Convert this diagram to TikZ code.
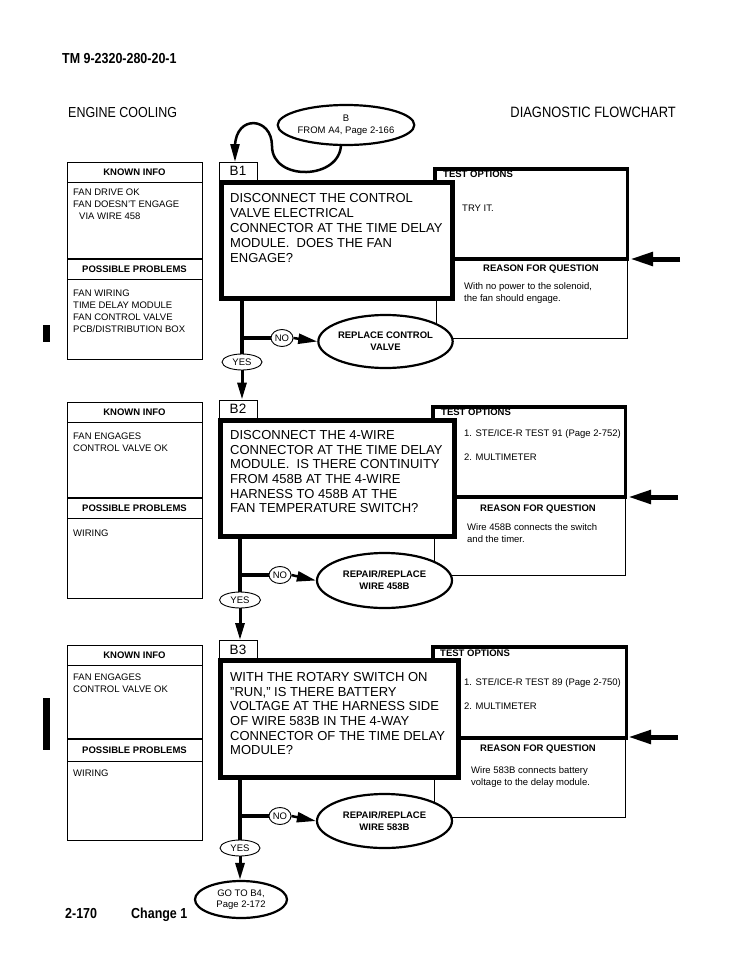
\documentclass[tikz,border=0pt]{standalone}
\usepackage{fontspec}
\setmainfont{Liberation Sans}
\newfontfamily\narrowfont[FakeStretch=0.86]{Liberation Sans}
\usetikzlibrary{arrows.meta,shapes.geometric}
\newcommand\fs[2]{\fontsize{#1}{#2}\selectfont}
\newcommand\rectnode[6]{\node[#1, minimum width={(#5)-(#3)}, minimum height={(#6)-(#4)}] (#2) at ({((#3)+(#5))/2},{((#4)+(#6))/2}) {};}
\begin{document}
\begin{tikzpicture}[x=1pt,y=-1pt,
  boxn/.style={rectangle, inner sep=0pt, draw, line width=1pt},
  qbox/.style={boxn, line width=5pt, fill=white},
  tobox/.style={boxn, line width=3.5pt},
  labbox/.style={boxn, fill=white, font=\fs{13.5}{16}, minimum width=38, minimum height=18},
  oval/.style={ellipse, draw, line width=2.2pt, fill=white, inner sep=0pt, align=center, font=\bfseries\fs{9.5}{12}},
  linkoval/.style={ellipse, draw, line width=2.2pt, fill=white, inner sep=0pt, align=center, font=\fs{9.5}{11.5}},
  smallov/.style={ellipse, draw, line width=0.9pt, fill=white, inner sep=0pt, font=\fs{9.5}{11}},
  trunk/.style={line width=4pt},
  flowarrow/.style={line width=3pt, -{Triangle[length=17pt,width=9pt]}},
  noarrow/.style={line width=2.5pt, -{Triangle[length=19pt,width=10pt]}},
  bigarrow/.style={line width=5pt, -{Triangle[length=23pt,width=13pt]}},
  looparrow/.style={line width=2.5pt, -{Triangle[length=18pt,width=9pt]}},
  txt/.style={inner sep=0pt, font=\fs{9.5}{12}, align=left},
  hdr/.style={inner sep=0pt, font=\bfseries\fs{9.5}{12}},
  qtext/.style={inner sep=0pt, align=left},
  divline/.style={line width=1pt},
  thickdiv/.style={line width=2pt}
]
\useasboundingbox (0,0) rectangle (750,972);

% ---------- header ----------
\node[anchor=base west, inner sep=0pt, font=\narrowfont\bfseries\fs{14.5}{17}] (tm) at (62,63.7) {TM 9-2320-280-20-1};
\node[anchor=base west, inner sep=0pt, font=\narrowfont\fs{14.5}{17}] (ec) at (68,117.2) {ENGINE COOLING};
\node[anchor=base east, inner sep=0pt, font=\narrowfont\fs{15}{17}] (df) at (676,117.4) {DIAGNOSTIC FLOWCHART};
\node[linkoval, minimum width=134, minimum height=40] (fromB) at (346,125) {B\\FROM A4, Page 2-166};

% left change bars
\fill (43,325) rectangle (50,342);
\fill (43,698) rectangle (50,750);

% ================= B1 =================
\rectnode{boxn}{k1}{67}{162}{202}{359}
\draw[divline] (67,182) -- (202,182);
\draw[thickdiv] (67,259) -- (202,259);
\draw[divline] (67,279) -- (202,279);
\node[hdr, anchor=base] (k1h) at (134.5,175.4) {KNOWN INFO};
\node[txt, anchor=north west] (k1t) at (73,188.6) {FAN DRIVE OK\\FAN DOESN'T ENGAGE\\\hspace*{6pt}VIA WIRE 458};
\node[hdr, anchor=base] (p1h) at (134.5,272.4) {POSSIBLE PROBLEMS};
\node[txt, anchor=north west] (p1t) at (73,289.6) {FAN WIRING\\TIME DELAY MODULE\\FAN CONTROL VALVE\\PCB/DISTRIBUTION BOX};

\rectnode{boxn}{r1}{436}{259}{627}{338}
\rectnode{tobox}{to1}{434.75}{168.75}{627.25}{259}
\node[labbox] (b1lab) at (238,171) {B1};
\rectnode{qbox}{q1}{221.5}{182.5}{452.5}{298.5}
\node[qtext, anchor=north west, font=\fs{13}{15}] (q1t) at (230,193.35) {DISCONNECT THE CONTROL\\VALVE ELECTRICAL\\CONNECTOR AT THE TIME DELAY\\MODULE.\ \ DOES THE FAN\\ENGAGE?};
\node[hdr, anchor=base west] (to1h) at (443,177.4) {TEST OPTIONS};
\node[txt, anchor=base west] (to1a) at (462,211.4) {TRY IT.};
\node[hdr, anchor=base] (r1h) at (541,271.4) {REASON FOR QUESTION};
\node[txt, anchor=north west] (r1t) at (464,282.6) {With no power to the solenoid,\\the fan should engage.};
\coordinate (r1tip) at (630,259);
\coordinate (r1tail) at (680,259);
\draw[bigarrow] (r1tail) -- (r1tip);

% loop arrow from B oval to B1
\coordinate (loopstart) at (341,144);
\coordinate (b1in) at (235,162);
\draw[looparrow] (loopstart) .. controls (341,180) and (272,182) .. (272,146) .. controls (272,117) and (236,114) .. (235,146) -- (b1in);

\node[smallov, minimum width=40, minimum height=16] (yes1) at (242,362) {YES};
\node[smallov, minimum width=22, minimum height=17] (no1) at (282,338) {NO};
\node[oval, minimum width=133, minimum height=53] (fix1) at (385.5,341.5) {REPLACE CONTROL\\VALVE};
\draw[trunk] (yes1 |- q1.south) -- (yes1.north);
\coordinate (br1) at (yes1 |- no1);
\draw[trunk] (br1) -- (no1.west);
\draw[noarrow] (no1.east) -- (fix1.west);

% ================= B2 =================
\rectnode{boxn}{k2}{67}{402}{202}{598}
\draw[divline] (67,422) -- (202,422);
\draw[thickdiv] (67,498) -- (202,498);
\draw[divline] (67,518) -- (202,518);
\node[hdr, anchor=base] (k2h) at (134.5,415.4) {KNOWN INFO};
\node[txt, anchor=north west] (k2t) at (73,432.6) {FAN ENGAGES\\CONTROL VALVE OK};
\node[hdr, anchor=base] (p2h) at (134.5,511.4) {POSSIBLE PROBLEMS};
\node[txt, anchor=north west] (p2t) at (73,529.6) {WIRING};

\rectnode{boxn}{r2}{434}{497}{625}{575}
\rectnode{tobox}{to2}{432.75}{406.75}{625.25}{497}
\node[labbox] (b2lab) at (238,409) {B2};
\rectnode{qbox}{q2}{220.5}{420.5}{454.5}{536.5}
\node[qtext, anchor=north west, font=\fs{13}{14.6}] (q2t) at (230,430.35) {DISCONNECT THE 4-WIRE\\CONNECTOR AT THE TIME DELAY\\MODULE.\ \ IS THERE CONTINUITY\\FROM 458B AT THE 4-WIRE\\HARNESS TO 458B AT THE\\FAN TEMPERATURE SWITCH?};
\node[hdr, anchor=base west] (to2h) at (441,415.4) {TEST OPTIONS};
\node[txt, anchor=base west] (to2a) at (464,436.4) {1. STE/ICE-R TEST 91 (Page 2-752)};
\node[txt, anchor=base west] (to2b) at (464,460.4) {2. MULTIMETER};
\node[hdr, anchor=base] (r2h) at (538,511.4) {REASON FOR QUESTION};
\node[txt, anchor=north west] (r2t) at (467,523.6) {Wire 458B connects the switch\\and the timer.};
\coordinate (r2tip) at (628,497);
\coordinate (r2tail) at (678,497);
\draw[bigarrow] (r2tail) -- (r2tip);

\draw[flowarrow] (yes1.south) -- (yes1.south |- b2lab.north);

\node[smallov, minimum width=41, minimum height=16] (yes2) at (240,600) {YES};
\node[smallov, minimum width=22, minimum height=17] (no2) at (280,575) {NO};
\node[oval, minimum width=135, minimum height=55] (fix2) at (384.5,580.5) {REPAIR/REPLACE\\WIRE 458B};
\draw[trunk] (yes2 |- q2.south) -- (yes2.north);
\coordinate (br2) at (yes2 |- no2);
\draw[trunk] (br2) -- (no2.west);
\draw[noarrow] (no2.east) -- (fix2.west);

% ================= B3 =================
\rectnode{boxn}{k3}{67}{645}{202}{840}
\draw[divline] (67,665) -- (202,665);
\draw[thickdiv] (67,739) -- (202,739);
\draw[divline] (67,761) -- (202,761);
\node[hdr, anchor=base] (k3h) at (134.5,658.4) {KNOWN INFO};
\node[txt, anchor=north west] (k3t) at (73,673.6) {FAN ENGAGES\\CONTROL VALVE OK};
\node[hdr, anchor=base] (p3h) at (134.5,753.4) {POSSIBLE PROBLEMS};
\node[txt, anchor=north west] (p3t) at (73,769.6) {WIRING};

\rectnode{boxn}{r3}{434}{738}{625}{817}
\rectnode{tobox}{to3}{432.75}{646.75}{626.25}{738}
\node[labbox] (b3lab) at (238,649.5) {B3};
\rectnode{qbox}{q3}{220.5}{660.5}{458.5}{777.5}
\node[qtext, anchor=north west, font=\fs{13}{14.6}] (q3t) at (230,672.35) {WITH THE ROTARY SWITCH ON\\"RUN," IS THERE BATTERY\\VOLTAGE AT THE HARNESS SIDE\\OF WIRE 583B IN THE 4-WAY\\CONNECTOR OF THE TIME DELAY\\MODULE?};
\node[hdr, anchor=base west] (to3h) at (440,656.4) {TEST OPTIONS};
\node[txt, anchor=base west] (to3a) at (464,685.4) {1. STE/ICE-R TEST 89 (Page 2-750)};
\node[txt, anchor=base west] (to3b) at (464,709.4) {2. MULTIMETER};
\node[hdr, anchor=base] (r3h) at (538,751.4) {REASON FOR QUESTION};
\node[txt, anchor=north west] (r3t) at (471,766.6) {Wire 583B connects battery\\voltage to the delay module.};
\coordinate (r3tip) at (628,737);
\coordinate (r3tail) at (678,737);
\draw[bigarrow] (r3tail) -- (r3tip);

\draw[flowarrow] (yes2.south) -- (yes2.south |- b3lab.north);

\node[smallov, minimum width=40, minimum height=16] (yes3) at (240,848) {YES};
\node[smallov, minimum width=22, minimum height=17] (no3) at (280,816) {NO};
\node[oval, minimum width=135, minimum height=54] (fix3) at (384.5,821) {REPAIR/REPLACE\\WIRE 583B};
\draw[trunk] (yes3 |- q3.south) -- (yes3.north);
\coordinate (br3) at (yes3 |- no3);
\draw[trunk] (br3) -- (no3.west);
\draw[noarrow] (no3.east) -- (fix3.west);

\node[linkoval, minimum width=92, minimum height=37] (goto) at (241,899.5) {GO TO B4,\\Page 2-172};
\draw[flowarrow] (yes3.south) -- (yes3.south |- goto.north);

% ---------- footer ----------
\node[anchor=base west, inner sep=0pt, font=\narrowfont\bfseries\fs{14.5}{17}] (pg) at (65,918.2) {2-170};
\node[anchor=base west, inner sep=0pt, font=\narrowfont\bfseries\fs{14.5}{17}] (chg) at (131,918.2) {Change 1};
\end{tikzpicture}
\end{document}
